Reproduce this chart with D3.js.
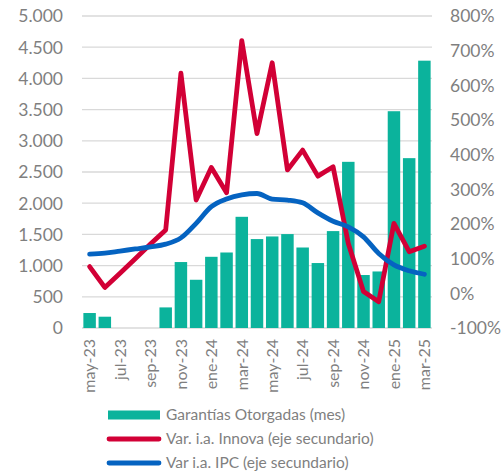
<!DOCTYPE html>
<html>
<head>
<meta charset="utf-8">
<script src="https://cdn.jsdelivr.net/npm/d3@7"></script>
<style>
    html, body { margin: 0; padding: 0; background: #fff; }
    svg { display: block; font-family: Lato, "Open Sans", sans-serif; }
    .tick-label { fill: #7f7f7f; }
</style>
</head>
<body>
<svg class="chart" width="503" height="475"></svg>
<script>
// chart data
var months = ['may-23', 'jun-23', 'jul-23', 'ago-23', 'sep-23', 'oct-23', 'nov-23', 'dic-23',
    'ene-24', 'feb-24', 'mar-24', 'abr-24', 'may-24', 'jun-24', 'jul-24', 'ago-24', 'sep-24',
    'oct-24', 'nov-24', 'dic-24', 'ene-25', 'feb-25', 'mar-25'];
var garantias = [240, 181, 0, 0, 0, 330, 1057, 773, 1141, 1210, 1782, 1425, 1467, 1505,
    1290, 1041, 1553, 2663, 849, 906, 3474, 2722, 4284];
var varInnova = [77, 17, 58, 100, 142, 183, 635, 269, 363, 290, 729, 461, 665, 356, 413,
    338, 365, 144, 5, -24, 202, 120, 136];
var varIPC = [113, 116, 122, 128, 134, 142, 160, 202, 250, 272, 284, 288, 272, 269, 261,
    232, 208, 192, 163, 115, 82, 65, 55];
var leftTicks = [0, 500, 1000, 1500, 2000, 2500, 3000, 3500, 4000, 4500, 5000];
var rightTicks = [-100, 0, 100, 200, 300, 400, 500, 600, 700, 800];
var legendNames = ['Garantías Otorgadas (mes)', 'Var. i.a. Innova (eje secundario)', 'Var i.a. IPC (eje secundario)'];

(function () {
    var teal = '#0bb39c', red = '#d20036', blue = '#0563c1', grey = '#7f7f7f';
    var svg = d3.select('.chart');

    var x = d3.scaleBand().domain(months).range([82, 432]).paddingInner(0.18).paddingOuter(0.09);
    var yLeft = d3.scaleLinear().domain([0, 5000]).range([328, 16]);
    var yRight = d3.scaleLinear().domain([-100, 800]).range([328, 16]);

    // gridlines
    svg.append('g').selectAll('line')
        .data(leftTicks)
        .enter().append('line')
            .attr('x1', 82).attr('x2', 432)
            .attr('y1', function (d) { return yLeft(d); })
            .attr('y2', function (d) { return yLeft(d); })
            .attr('stroke', '#d9d9d9').attr('stroke-width', 1.3);

    // left axis
    var left = svg.append('g')
        .attr('transform', 'translate(66,0)')
        .call(d3.axisLeft(yLeft).tickValues(leftTicks).tickSize(0).tickPadding(3)
            .tickFormat(function (d) { return d3.format(',')(d).replace(/,/g, '.'); }));
    left.select('.domain').remove();
    left.selectAll('text').attr('class', 'tick-label').style('font-size', '17.5px')
        .style('font-family', 'Lato').attr('dy', '0.34em');

    // right axis
    var right = svg.append('g')
        .attr('transform', 'translate(447,0)')
        .call(d3.axisRight(yRight).tickValues(rightTicks).tickSize(0).tickPadding(3)
            .tickFormat(function (d) { return d + '%'; }));
    right.select('.domain').remove();
    right.selectAll('text').attr('class', 'tick-label').style('font-size', '17.5px')
        .style('font-family', 'Lato').attr('dy', '0.34em');

    // bottom axis labels, every second month
    var bottom = svg.append('g')
        .attr('transform', 'translate(0,328)')
        .call(d3.axisBottom(x).tickValues(months.filter(function (d, i) { return i % 2 === 0; })).tickSize(0));
    bottom.select('.domain').remove();
    bottom.selectAll('text')
        .attr('class', 'tick-label')
        .style('font-size', '16px').style('font-family', 'Lato')
        .attr('text-anchor', 'end')
        .attr('transform', 'rotate(-90)')
        .attr('x', -11).attr('y', 0).attr('dy', '0.36em')
        .attr('dx', 0);

    // bars
    svg.append('g').selectAll('rect')
        .data(garantias)
        .enter().append('rect')
            .attr('x', function (d, i) { return x(months[i]); })
            .attr('width', x.bandwidth())
            .attr('y', function (d) { return yLeft(d); })
            .attr('height', function (d) { return yLeft(0) - yLeft(d); })
            .attr('fill', teal);

    var cx = function (d, i) { return x(months[i]) + x.bandwidth() / 2; };

    svg.append('path')
        .datum(varInnova)
        .attr('fill', 'none').attr('stroke', red).attr('stroke-width', 4.8)
        .attr('stroke-linejoin', 'round').attr('stroke-linecap', 'round')
        .attr('d', d3.line().x(cx).y(function (d) { return yRight(d); }));

    svg.append('path')
        .datum(varIPC)
        .attr('fill', 'none').attr('stroke', blue).attr('stroke-width', 4.8)
        .attr('stroke-linejoin', 'round').attr('stroke-linecap', 'round')
        .attr('d', d3.line().curve(d3.curveMonotoneX).x(cx).y(function (d) { return yRight(d); }));

    // legend
    var legendY = [415, 439, 463];
    var legend = svg.append('g');
    legend.append('rect')
        .attr('x', 108).attr('y', legendY[0] - 4.5).attr('width', 52).attr('height', 9)
        .attr('fill', teal);
    [red, blue].forEach(function (c, i) {
        legend.append('line')
            .attr('x1', 109).attr('x2', 159)
            .attr('y1', legendY[i + 1]).attr('y2', legendY[i + 1])
            .attr('stroke', c).attr('stroke-width', 4.8).attr('stroke-linecap', 'round');
    });
    legend.selectAll('text')
        .data(legendNames)
        .enter().append('text')
            .attr('x', 166)
            .attr('y', function (d, i) { return legendY[i]; })
            .attr('dy', '0.35em')
            .attr('fill', grey)
            .style('font-size', '15.5px')
            .text(function (d) { return d; });
}());
</script>
</body>
</html>
